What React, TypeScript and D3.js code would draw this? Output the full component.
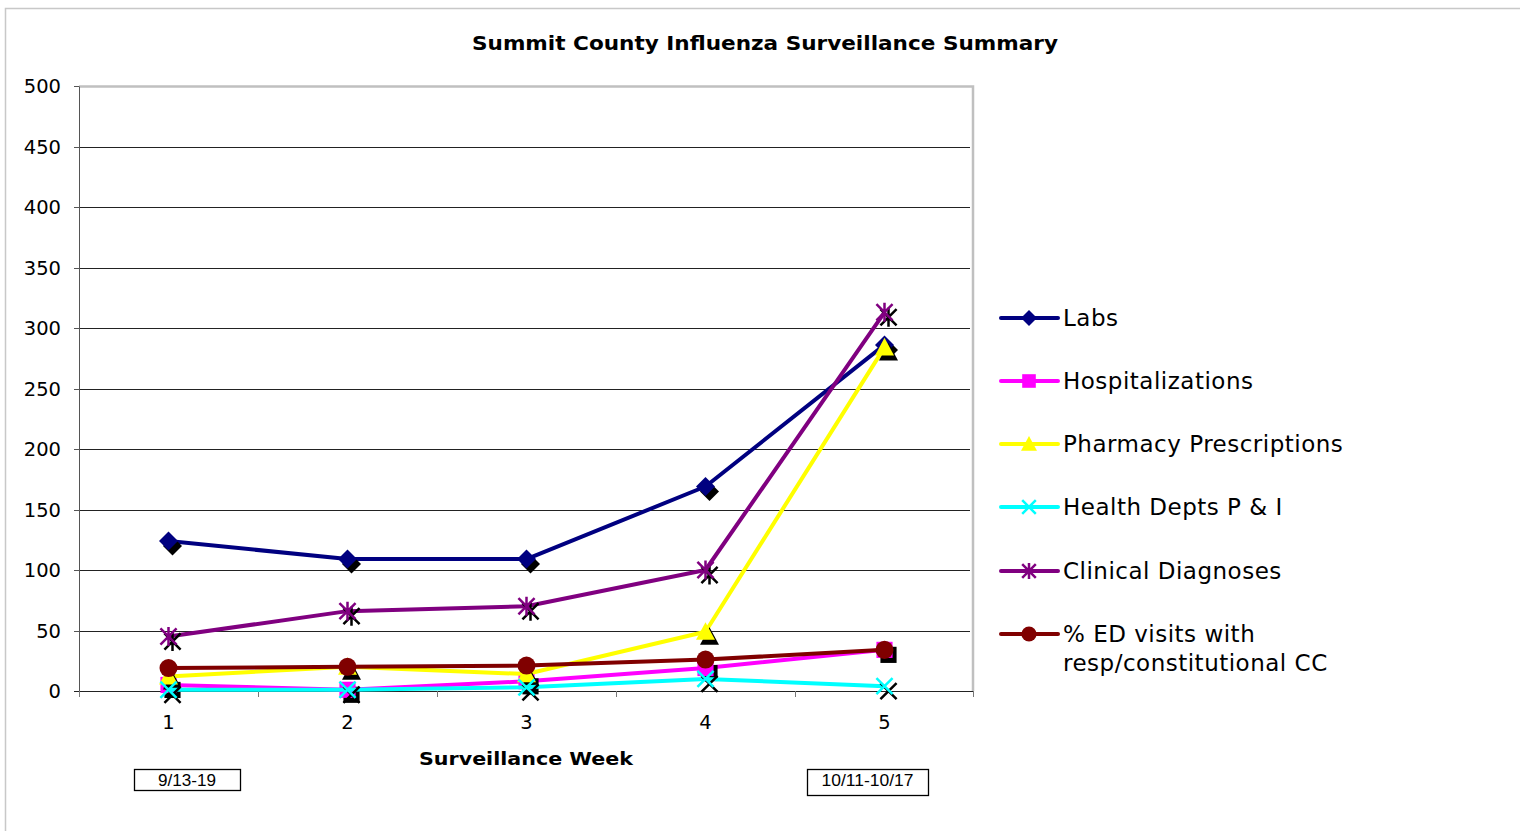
import React, { useEffect, useRef } from "react";
import * as d3 from "d3";

const weeks = ["1", "2", "3", "4", "5"];
const yTicks = [0, 50, 100, 150, 200, 250, 300, 350, 400, 450, 500];

const labs = [124, 109, 109, 169, 286];
const hospitalizations = [5, 1, 8, 19, 34];
const pharmacy = [12, 20, 14, 49, 284];
const healthDepts = [1, 1, 3, 10, 4];
const clinical = [45, 66, 70, 100, 313];
const edVisits = [19, 20, 21, 26, 34];

const seriesNames = [
  "Labs",
  "Hospitalizations",
  "Pharmacy Prescriptions",
  "Health Depts P & I",
  "Clinical Diagnoses",
  "% ED visits with|resp/constitutional CC",
];
const seriesColors = ["#000080", "#ff00ff", "#ffff00", "#00ffff", "#800080", "#800000"];
const seriesMarkers = ["diamond", "square", "triangle", "x", "star", "circle"];
const seriesValues = [labs, hospitalizations, pharmacy, healthDepts, clinical, edVisits];

const firstWeekLabel = "9/13-19";
const lastWeekLabel = "10/11-10/17";

const FONT = "'DejaVu Sans', Verdana, sans-serif";

// draws a marker into group g at (cx, cy)
function drawMarker(g, type, cx, cy, color, s) {
  const m = g.append("g").attr("transform", `translate(${cx},${cy})`);
  if (type === "diamond") {
    m.append("path").attr("d", `M0,${-s}L${s},0L0,${s}L${-s},0Z`).attr("fill", color);
  } else if (type === "square") {
    m.append("rect").attr("x", -s * 0.85).attr("y", -s * 0.85).attr("width", s * 1.7).attr("height", s * 1.7).attr("fill", color);
  } else if (type === "triangle") {
    m.append("path").attr("d", `M0,${-s}L${s},${s * 0.85}L${-s},${s * 0.85}Z`).attr("fill", color);
  } else if (type === "circle") {
    m.append("circle").attr("r", s * 0.95).attr("fill", color);
  } else {
    const k = s * 0.85;
    let d = `M${-k},${-k}L${k},${k}M${-k},${k}L${k},${-k}`;
    if (type === "star") d += `M0,${-s}L0,${s}`;
    m.append("path").attr("d", d).attr("stroke", color).attr("stroke-width", 2.5).attr("fill", "none");
  }
}

const App = () => {
  const ref = useRef(null);

  useEffect(() => {
    const svg = d3.select(ref.current);
    svg.selectAll("*").remove();

    const left = 79;
    const right = 974;
    const top = 86;
    const bottom = 691;

    const x = d3.scaleBand().domain(weeks).range([left, right]);
    const cx = (d) => x(d) + x.bandwidth() / 2;
    const y = d3.scaleLinear().domain([0, 500]).range([bottom, top]);
    const py = (v) => Math.round(y(v)) + 0.5;

    // outer chart border
    svg
      .append("rect")
      .attr("x", 5.5)
      .attr("y", 8.5)
      .attr("width", 1530)
      .attr("height", 840)
      .attr("fill", "#fff")
      .attr("stroke", "#c8c8c8")
      .attr("stroke-width", 1.5);

    svg
      .append("text")
      .attr("x", 765)
      .attr("y", 50)
      .attr("text-anchor", "middle")
      .attr("font-family", FONT)
      .attr("font-weight", "bold")
      .attr("font-size", 20)
      .attr("textLength", 586)
      .attr("lengthAdjust", "spacingAndGlyphs")
      .text("Summit County Influenza Surveillance Summary");

    // gridlines
    svg
      .append("g")
      .selectAll("line")
      .data(yTicks.filter((t) => t > 0 && t < 500))
      .enter()
      .append("line")
      .attr("x1", left)
      .attr("x2", right - 4)
      .attr("y1", (d) => py(d))
      .attr("y2", (d) => py(d))
      .attr("stroke", "#222")
      .attr("stroke-width", 1);

    // plot top and right border
    svg
      .append("path")
      .attr("d", `M${left},${py(500)}H${right - 1}V${bottom}`)
      .attr("fill", "none")
      .attr("stroke", "#c0c0c0")
      .attr("stroke-width", 2.5);

    // y axis
    const yAxis = svg.append("g");
    yAxis
      .append("line")
      .attr("x1", left + 0.5)
      .attr("x2", left + 0.5)
      .attr("y1", py(500))
      .attr("y2", bottom + 5)
      .attr("stroke", "#555");
    yAxis
      .selectAll("line.tick")
      .data(yTicks)
      .enter()
      .append("line")
      .attr("class", "tick")
      .attr("x1", left - 5)
      .attr("x2", left)
      .attr("y1", (d) => py(d))
      .attr("y2", (d) => py(d))
      .attr("stroke", "#555");
    yAxis
      .selectAll("text")
      .data(yTicks)
      .enter()
      .append("text")
      .attr("x", 61)
      .attr("y", (d) => y(d) + 7)
      .attr("text-anchor", "end")
      .attr("font-family", FONT)
      .attr("font-size", 19.5)
      .text((d) => d);

    // x axis
    const xAxis = svg.append("g");
    xAxis
      .append("line")
      .attr("x1", left - 5)
      .attr("x2", right)
      .attr("y1", bottom + 0.5)
      .attr("y2", bottom + 0.5)
      .attr("stroke", "#222");
    xAxis
      .selectAll("line.tick")
      .data([...weeks.map((d) => x(d)), right - 1])
      .enter()
      .append("line")
      .attr("class", "tick")
      .attr("x1", (d) => Math.round(d) + 0.5)
      .attr("x2", (d) => Math.round(d) + 0.5)
      .attr("y1", bottom)
      .attr("y2", bottom + 6)
      .attr("stroke", "#777");
    xAxis
      .selectAll("text")
      .data(weeks)
      .enter()
      .append("text")
      .attr("x", (d) => cx(d))
      .attr("y", 729)
      .attr("text-anchor", "middle")
      .attr("font-family", FONT)
      .attr("font-size", 19.5)
      .text((d) => d);

    svg
      .append("text")
      .attr("x", 526)
      .attr("y", 765)
      .attr("text-anchor", "middle")
      .attr("font-family", FONT)
      .attr("font-weight", "bold")
      .attr("font-size", 18)
      .attr("textLength", 214)
      .attr("lengthAdjust", "spacingAndGlyphs")
      .text("Surveillance Week");

    // date boxes
    const boxes = [
      { label: firstWeekLabel, x: 134, w: 106, h: 21, tw: 58 },
      { label: lastWeekLabel, x: 807, w: 121, h: 26, tw: 92 },
    ];
    boxes.forEach((b) => {
      svg
        .append("rect")
        .attr("x", b.x + 0.5)
        .attr("y", 769.5)
        .attr("width", b.w)
        .attr("height", b.h)
        .attr("fill", "#fff")
        .attr("stroke", "#000")
        .attr("stroke-width", 1.3);
      svg
        .append("text")
        .attr("x", b.x + b.w / 2)
        .attr("y", 786)
        .attr("text-anchor", "middle")
        .attr("font-family", "'Liberation Sans Narrow', 'Liberation Sans', Arial, sans-serif")
        .attr("font-size", 16)
        .attr("textLength", b.tw)
        .attr("lengthAdjust", "spacingAndGlyphs")
        .text(b.label);
    });

    // series
    const line = d3
      .line()
      .x((d, i) => cx(weeks[i]))
      .y((d) => y(d));

    seriesValues.forEach((vals, si) => {
      const g = svg.append("g");
      g.append("path")
        .attr("d", line(vals))
        .attr("fill", "none")
        .attr("stroke", seriesColors[si])
        .attr("stroke-width", 4)
        .attr("stroke-linejoin", "round");
      vals.forEach((v, i) => {
        if (seriesMarkers[si] !== "circle") {
          drawMarker(g, seriesMarkers[si], cx(weeks[i]) + 4, y(v) + 5, "#000", 9.5);
        }
        drawMarker(g, seriesMarkers[si], cx(weeks[i]), y(v), seriesColors[si], 9.5);
      });
    });

    // legend
    const legend = svg.append("g");
    legend
      .append("rect")
      .attr("x", 975)
      .attr("y", 299)
      .attr("width", 390)
      .attr("height", 385)
      .attr("fill", "#fff");
    const legendY = [318, 381, 444, 507, 571, 634];
    seriesNames.forEach((name, si) => {
      const ly = legendY[si];
      legend
        .append("line")
        .attr("x1", 1001)
        .attr("x2", 1058)
        .attr("y1", ly)
        .attr("y2", ly)
        .attr("stroke", seriesColors[si])
        .attr("stroke-width", 4)
        .attr("stroke-linecap", "round");
      drawMarker(legend, seriesMarkers[si], 1029, ly, seriesColors[si], 8);
      const t = legend
        .append("text")
        .attr("x", 1063)
        .attr("y", ly + 8)
        .attr("font-family", FONT)
        .attr("font-size", 23)
        .attr("letter-spacing", 0.5);
      name.split("|").forEach((part, k) => {
        t.append("tspan")
          .attr("x", 1063)
          .attr("dy", k === 0 ? 0 : 29)
          .text(part);
      });
    });
  }, []);

  return (
    <svg
      ref={ref}
      width={1520}
      height={831}
      style={{ position: "absolute", left: 0, top: 0, display: "block" }}
    ></svg>
  );
};

export default App;
